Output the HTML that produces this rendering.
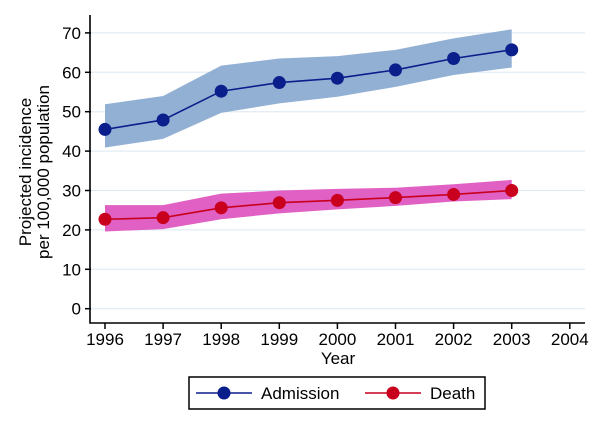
<!DOCTYPE html>
<html><head><meta charset="utf-8"><style>
body{margin:0;background:#fff}
svg{display:block;font-family:"Liberation Sans",sans-serif}
</style></head><body>
<svg id="c" width="600" height="429" xmlns="http://www.w3.org/2000/svg"></svg>
<script>
const years=[1996,1997,1998,1999,2000,2001,2002,2003];
const admission=[45.5,47.9,55.2,57.4,58.5,60.6,63.5,65.7];
const admissionUpper=[51.9,54.0,61.7,63.5,64.1,65.7,68.6,70.9];
const admissionLower=[40.9,43.1,49.7,52.1,53.8,56.3,59.3,61.2];
const death=[22.7,23.1,25.6,26.9,27.5,28.2,29.0,30.0];
const deathUpper=[26.3,26.3,29.2,30.0,30.4,30.7,31.6,32.7];
const deathLower=[19.6,20.2,22.7,24.2,25.2,26.1,27.2,27.8];
const xTicks=[1996,1997,1998,1999,2000,2001,2002,2003,2004];
const yTicks=[0,10,20,30,40,50,60,70];

const svg=document.getElementById('c');
const NS='http://www.w3.org/2000/svg';
const X=v=>105+(v-1996)*58.1;
const Y=v=>308.7-v*3.94;
function mk(tag,attrs,parent){const e=document.createElementNS(NS,tag);for(const k in attrs)e.setAttribute(k,attrs[k]);(parent||svg).appendChild(e);return e;}

yTicks.forEach(t=>{
  const g=mk('line',{x1:91,x2:585,y1:Y(t),y2:Y(t),stroke:'#dbe8f3','stroke-width':1});
  
  
  const tk=mk('line',{x1:85,x2:91,y1:Y(t),y2:Y(t),stroke:'#000','stroke-width':1.5});
  
  
  const tx=mk('text',{x:81,y:Y(t)+6,'text-anchor':'end','font-size':17});
  tx.textContent=t;
  
  
});
xTicks.forEach(t=>{
  const tk=mk('line',{x1:X(t),x2:X(t),y1:323,y2:329,stroke:'#000','stroke-width':1.5});
  
  
  const tx=mk('text',{x:X(t),y:345,'text-anchor':'middle','font-size':17});
  tx.textContent=t;
  
  
});
function band(up,lo,fill,name){
  let d=up.map((v,i)=>(i?'L':'M')+X(years[i])+','+Y(v)).join('');
  d+=lo.map((v,i)=>i).reverse().map(i=>'L'+X(years[i])+','+Y(lo[i])).join('')+'Z';
  const p=mk('path',{d,fill});
  
  
}
function series(vals,color,name){
  const pl=mk('polyline',{points:vals.map((v,i)=>X(years[i])+','+Y(v)).join(' '),fill:'none',stroke:color,'stroke-width':1.6});
  
  
  vals.forEach((v,i)=>{
    const c=mk('circle',{cx:X(years[i]),cy:Y(v),r:6.5,fill:color});
    
    
  });
}
band(admissionUpper,admissionLower,'#92b0d3','admission-ci-band');
band(deathUpper,deathLower,'#e060c4','death-ci-band');
series(admission,'#0a1e8c','admission');
series(death,'#c8001e','death');

const ax=mk('path',{d:'M90,15V323H585',fill:'none',stroke:'#000','stroke-width':1.6});


const xt=mk('text',{x:338,y:364,'text-anchor':'middle','font-size':17});
xt.textContent='Year';


const yt=mk('text',{transform:'translate(31,172) rotate(-90)','text-anchor':'middle','font-size':17});


const t1=mk('tspan',{x:0,dy:0},yt);t1.textContent='Projected incidence';
const t2=mk('tspan',{x:0,dy:18},yt);t2.textContent='per 100,000 population';

const lg=mk('g',{});


mk('rect',{x:189,y:377,width:296,height:32,fill:'#fff',stroke:'#000','stroke-width':1.5},lg);
[[196,'#0a1e8c','Admission','legend-entry-admission'],[365,'#c8001e','Death','legend-entry-death']].forEach(([x0,c,l,n])=>{
  const g=mk('g',{},lg);
  
  
  mk('line',{x1:x0,x2:x0+56,y1:393,y2:393,stroke:c,'stroke-width':1.6},g);
  mk('circle',{cx:x0+28,cy:393,r:6.5,fill:c},g);
  const t=mk('text',{x:x0+65,y:399,'font-size':17},g);t.textContent=l;
});
</script>
</body></html>
